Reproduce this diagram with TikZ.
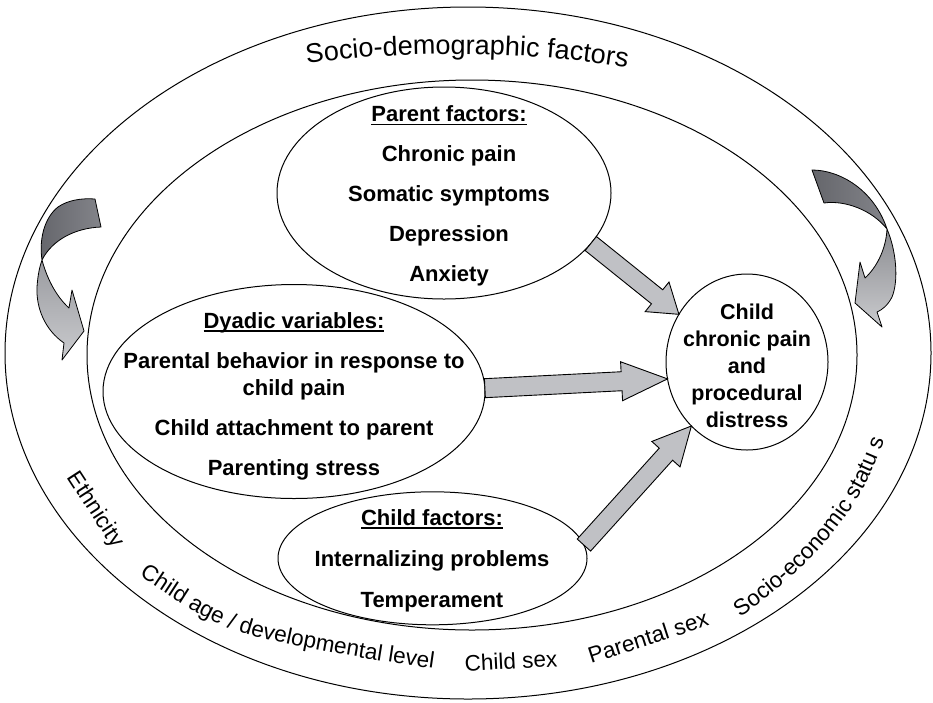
\documentclass[tikz,border=0pt]{standalone}
\usepackage{fontspec}
\setmainfont{Liberation Sans}
\usetikzlibrary{shapes.geometric,calc,decorations.text}
\definecolor{arrowgray}{HTML}{C0C1C5}
\definecolor{darkribbon}{HTML}{65666B}
\definecolor{darkribbonB}{HTML}{83848A}
\definecolor{lightribbonA}{HTML}{9A9BA0}
\definecolor{lightribbonB}{HTML}{CACBCE}
\newcommand{\ulx}[1]{\setbox0\hbox{#1}\rlap{\raisebox{-3.8pt}{\rule{\wd0}{1.8pt}}}\box0}
\newcommand{\ringfont}{\fontsize{22.5}{27}\selectfont}
\newcommand{\topfont}{\fontsize{27}{31}\selectfont}
\newcommand{\blockarr}[6]{%
  \coordinate (#3h) at ($(#2)!#6!(#1)$);
  \draw[blockarrow] ($(#1)!#4!90:(#2)$) -- ($(#3h)!#4!-90:(#1)$) -- ($(#3h)!#5!-90:(#1)$) -- (#2) -- ($(#3h)!#5!90:(#1)$) -- ($(#3h)!#4!90:(#1)$) -- ($(#1)!#4!-90:(#2)$) -- cycle;}
\begin{document}
\begin{tikzpicture}[x=1pt,y=-1pt,
  ring/.style={draw=black, line width=1pt, ellipse, inner sep=0pt, outer sep=0pt},
  bt/.style={font=\fontsize{22}{26}\selectfont\bfseries, inner sep=0pt, anchor=base},
  ct/.style={font=\fontsize{21.5}{26}\selectfont\bfseries, inner sep=0pt, anchor=base},
  rt/.style={font=\ringfont, inner sep=0pt},
  blockarrow/.style={draw=black, line width=0.9pt, fill=arrowgray, line join=miter, miter limit=20},
  ribbon/.style={draw=black, line width=0.8pt, line join=round}
]
\useasboundingbox (0,0) rectangle (933,702);
\fill[white] (0,0) rectangle (933,702);

% ellipses
\node[ring, minimum width=926pt, minimum height=692pt] (outer) at (468,353) {};
\node[ring, minimum width=770pt, minimum height=550pt] (inner) at (472,355) {};
\node[ring, minimum width=334pt, minimum height=212pt] (parent) at (444,193) {};
\node[ring, minimum width=382pt, minimum height=214pt] (dyadic) at (294,391.5) {};
\node[ring, minimum width=309pt, minimum height=133pt] (child) at (432.5,558.3) {};
\node[ring, minimum width=162pt, minimum height=176pt] (pain) at (747,362) {};

% parent texts
\node[bt] (p0) at (449,121.5) {\ulx{Parent factors:}};
\node[bt] (p1) at (449,161.5) {Chronic pain};
\node[bt] (p2) at (449,201.5) {Somatic symptoms};
\node[bt] (p3) at (449,241.5) {Depression};
\node[bt] (p4) at (449,281.5) {Anxiety};

% dyadic texts
\node[bt] (d0) at (294,328) {\ulx{Dyadic variables:}};
\node[bt] (d1) at (294,368) {Parental behavior in response to};
\node[bt] (d2) at (294,395) {child pain};
\node[bt] (d3) at (294,435) {Child attachment to parent};
\node[bt] (d4) at (294,475) {Parenting stress};

% child texts
\node[bt] (c0) at (432,525) {\ulx{Child factors:}};
\node[bt] (c1) at (432,566.5) {Internalizing problems};
\node[bt] (c2) at (432,607) {Temperament};

% outcome texts
\node[ct] (o1) at (747,319) {Child};
\node[ct] (o2) at (747,346) {chronic pain};
\node[ct] (o3) at (747,373) {and};
\node[ct] (o4) at (747,400) {procedural};
\node[ct] (o5) at (747,427) {distress};

% block arrows
\blockarr{parent.-19.5}{pain.145}{a1}{9pt}{19pt}{28pt}
\blockarr{dyadic.1}{pain.192.8}{a2}{9.5pt}{19.5pt}{46pt}
\blockarr{child.5}{pain.229.8}{a3}{9pt}{19pt}{38pt}

% curved ribbon arrows (left)
\draw[ribbon, left color=darkribbon, right color=darkribbonB]
  (95,199) -- (101,227) .. controls (75,228) and (52,240) .. (42,260)
  .. controls (39,240) and (44,218) .. (58,207) .. controls (68,200) and (82,198) .. (95,199) -- cycle;
\draw[ribbon, top color=lightribbonA, bottom color=lightribbonB]
  (42,260) .. controls (48,282) and (58,298) .. (69,308) -- (72,290) -- (84,331) -- (62,360) -- (64,343)
  .. controls (45,330) and (36,308) .. (37,287) .. controls (38,273) and (40,266) .. (42,260) -- cycle;
% curved ribbon arrows (right)
\draw[ribbon, left color=darkribbon, right color=darkribbonB]
  (812,170) .. controls (840,170) and (874,190) .. (887,229)
  .. controls (872,210) and (845,200) .. (824,203) -- cycle;
\draw[ribbon, top color=lightribbonA!90!black, bottom color=lightribbonB]
  (887,229) .. controls (896,250) and (899,280) .. (892,297) .. controls (888,305) and (882,310) .. (877,312)
  -- (882,327) -- (855,303) -- (860,262) -- (865,278) .. controls (876,268) and (886,250) .. (887,229) -- cycle;

% ring texts
\path[decorate, decoration={text along path, text={|\topfont|Socio-demographic factors}}]
  (307,64) .. controls (395,50) and (540,50) .. (640,70) -- (665,77);
\node[rt, rotate=-57] (eth) at (95,510) {Ethnicity};
\path[decorate, decoration={text along path, text={|\ringfont|Child age / developmental level}}]
  (139,576) .. controls (172,597) and (205,623) .. (250,635) .. controls (300,648) and (380,662) .. (480,675);
\node[rt, rotate=3] (csex) at (511,661) {Child sex};
\node[rt, rotate=18] (psex) at (648,637) {Parental sex};
\path[decorate, decoration={text along path, text={|\ringfont|Socio-economic statu s}}]
  (740,617) .. controls (805,572) and (866,512) .. (889,424) -- (893,400);
\end{tikzpicture}
\end{document}
